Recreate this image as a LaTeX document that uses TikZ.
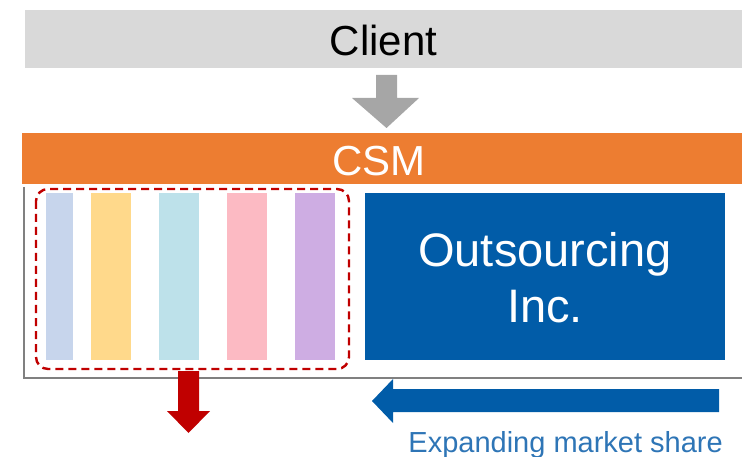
\documentclass[tikz,border=0pt]{standalone}
\usepackage{fontspec}
\setmainfont{Liberation Sans}
\definecolor{clientgray}{HTML}{D9D9D9}
\definecolor{arrowgray}{HTML}{A6A6A6}
\definecolor{csmorange}{HTML}{ED7D31}
\definecolor{framegray}{HTML}{808080}
\definecolor{darkred}{HTML}{C00000}
\definecolor{corpblue}{HTML}{015CA8}
\definecolor{labelblue}{HTML}{2E75B6}
\definecolor{stripeA}{HTML}{C7D5EC}
\definecolor{stripeB}{HTML}{FFD98B}
\definecolor{stripeC}{HTML}{BDE1EA}
\definecolor{stripeD}{HTML}{FCBAC3}
\definecolor{stripeE}{HTML}{CEADE3}
\tikzset{
  bigtext/.style={font=\fontsize{42}{50}\selectfont, inner sep=0pt},
  stripe/.style={draw=none}
}
\begin{document}
\begin{tikzpicture}[x=1pt,y=-1pt]
\useasboundingbox (0,0) rectangle (742,457);

% client bar
\fill[clientgray] (25,10) rectangle (742,68);
\node[bigtext] (client) at (383.5,40) {Client};

% arrow down from client to CSM
\fill[arrowgray] (376,75) -- (397,75) -- (397,98) -- (419,98) -- (386.5,128)
  -- (352,98) -- (376,98) -- cycle;

% CSM bar
\fill[csmorange] (22,133) rectangle (742,184);
\node[bigtext, text=white] (csm) at (379,161) {CSM};

% market frame
\draw[framegray, line width=2pt] (24,187) -- (24,378) -- (742,378);

% small providers
\fill[stripeA] (46,193) rectangle (73,360);
\fill[stripeB] (91,193) rectangle (131,360);
\fill[stripeC] (159,193) rectangle (199,360);
\fill[stripeD] (227,193) rectangle (267,360);
\fill[stripeE] (295,193) rectangle (335,360);
\draw[darkred, line width=2.4pt, dash pattern=on 8pt off 5pt, rounded corners=12pt]
  (36,189) rectangle (349,369);

% large provider
\fill[corpblue] (365,193) rectangle (725,360);
\node[font=\fontsize{47}{56}\selectfont, text=white, align=center, inner sep=0pt]
  (corp) at (545,278) {Outsourcing\\Inc.};

% shrinking share
\fill[darkred] (178,371) -- (199,371) -- (199,411) -- (210,411) -- (188.5,433)
  -- (167,411) -- (178,411) -- cycle;

% expanding share
\fill[corpblue] (719,389) -- (393,389) -- (393,379) -- (372,401) -- (393,423)
  -- (393,412) -- (719,412) -- cycle;
\node[font=\fontsize{29}{34}\selectfont, text=labelblue, inner sep=0pt, anchor=base east]
  (share) at (723,452) {Expanding market share};
\end{tikzpicture}
\end{document}
